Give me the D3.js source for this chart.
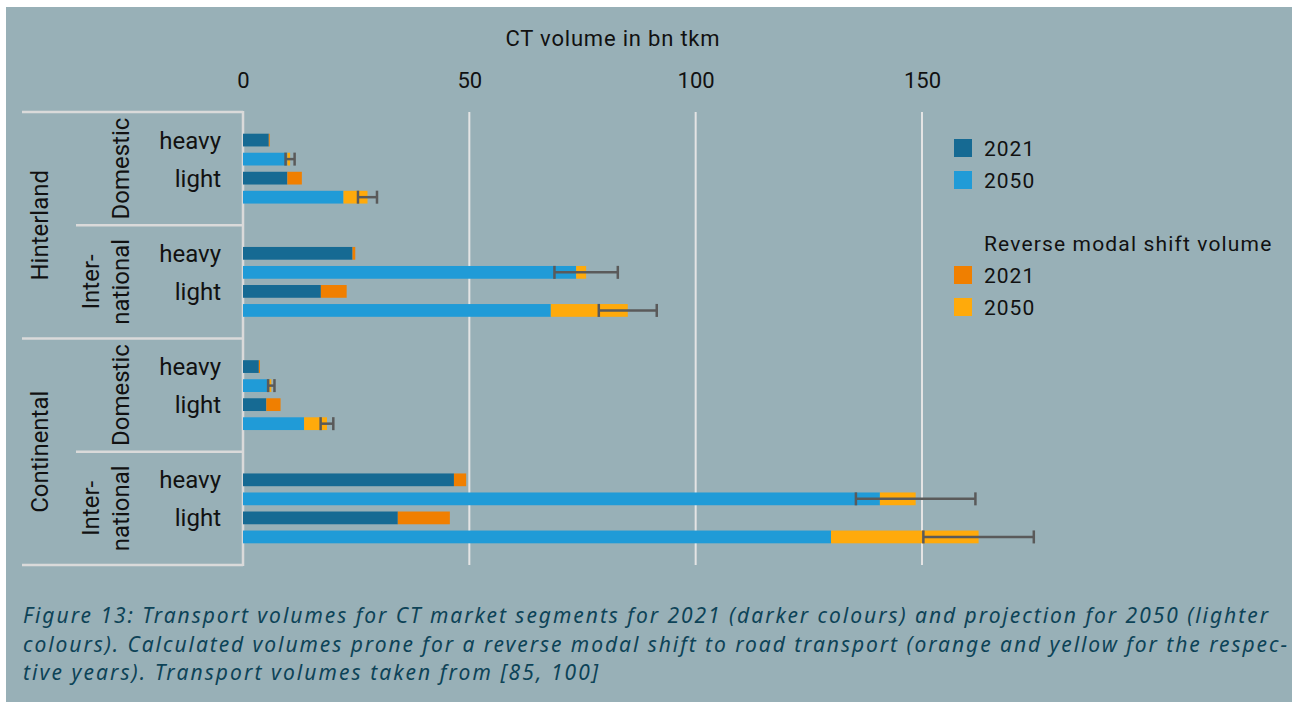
<!DOCTYPE html>
<html>
<head>
<meta charset="utf-8">
<script src="https://cdn.jsdelivr.net/npm/d3@7"></script>
<style>
body { margin: 0; background: #fff; }
svg text { font-family: Roboto, "Noto Sans", sans-serif; fill: #111; }
</style>
</head>
<body>
<script>
var regions = ["Hinterland", "Continental"];
var scopes = ["Domestic", "International"];
var loads = ["heavy", "light"];
var years = ["2021", "2050"];

// order: Hinterland Domestic heavy, light, Hinterland International heavy, light,
//        Continental Domestic heavy, light, Continental International heavy, light
var volume2021 = [5.7, 9.8, 24.2, 17.2, 3.5, 5.15, 46.6, 34.2];
var volume2050 = [9.8, 22.2, 73.6, 68.0, 5.8, 13.5, 140.7, 129.9];
var shift2021 = [0.2, 3.2, 0.6, 5.7, 0.25, 3.15, 2.7, 11.5];
var shift2050 = [0.6, 5.3, 2.2, 17.0, 0.45, 5.05, 7.9, 32.6];
var error2050 = [1.0, 2.1, 7.0, 6.4, 0.7, 1.4, 13.2, 12.2];
var xTicks = [0, 50, 100, 150];

var colors = {
    base2021: "#166a93",
    base2050: "#209bd7",
    shift2021: "#f07f00",
    shift2050: "#ffaa0b"
};

var width = 1292, height = 702;

var svg = d3.select("body").append("svg")
    .attr("width", width)
    .attr("height", height);

svg.append("rect")
    .attr("x", 6).attr("y", 7)
    .attr("width", width - 6).attr("height", height - 7)
    .attr("fill", "#98b0b7");

// build rows
var rows = [];
volume2021.forEach(function (v, i) {
    var region = regions[Math.floor(i / 4)];
    var scope = scopes[Math.floor(i / 2) % 2];
    var load = loads[i % 2];
    rows.push({group: region + "|" + scope, load: load, year: years[0],
        base: v, shift: shift2021[i], err: null});
    rows.push({group: region + "|" + scope, load: load, year: years[1],
        base: volume2050[i], shift: shift2050[i], err: error2050[i]});
});

var groups = [];
regions.forEach(function (r) {
    scopes.forEach(function (s) { groups.push(r + "|" + s); });
});

var x = d3.scaleLinear().domain([0, 150]).range([243, 922]);

var yGroup = d3.scaleBand().domain(groups).range([112, 565]);
var yRow = d3.scaleBand()
    .domain(["heavy-2021", "heavy-2050", "light-2021", "light-2050"])
    .range([0, yGroup.bandwidth()])
    .paddingInner(0.33)
    .paddingOuter(1.14);

function rowY(d) {
    return yGroup(d.group) + yRow(d.load + "-" + d.year);
}

// title
svg.append("text")
    .attr("x", 613).attr("y", 46)
    .attr("text-anchor", "middle")
    .attr("font-size", "22px")
    .attr("letter-spacing", "0.8px")
    .text("CT volume in bn tkm");

// top axis
var xAxis = svg.append("g")
    .attr("transform", "translate(0,88)")
    .call(d3.axisTop(x).tickValues(xTicks).tickSize(0).tickPadding(0));
xAxis.select(".domain").remove();
xAxis.selectAll("text")
    .attr("font-size", "22px")
    .attr("font-family", "Roboto, sans-serif")
    .attr("fill", "#111")
    .attr("dy", 0);

// gridlines
svg.append("g").selectAll("line")
    .data(xTicks.slice(1))
    .enter().append("line")
    .attr("x1", function (d) { return x(d); })
    .attr("x2", function (d) { return x(d); })
    .attr("y1", 112).attr("y2", 565)
    .attr("stroke", "#e4e4e4")
    .attr("stroke-width", 2);

// category axis lines
var axisColor = "#dadada";
svg.append("line")
    .attr("x1", x(0)).attr("x2", x(0))
    .attr("y1", 111).attr("y2", 566)
    .attr("stroke", axisColor).attr("stroke-width", 2.5);

var boundaries = [];
groups.forEach(function (g, i) {
    boundaries.push({y: yGroup(g), left: i % 2 === 0 ? 22 : 76});
});
boundaries.push({y: yGroup.range()[1], left: 22});

svg.append("g").selectAll("line")
    .data(boundaries)
    .enter().append("line")
    .attr("x1", function (d) { return d.left; })
    .attr("x2", x(0))
    .attr("y1", function (d) { return d.y; })
    .attr("y2", function (d) { return d.y; })
    .attr("stroke", axisColor)
    .attr("stroke-width", 2.5);

// bars
var barG = svg.append("g");
rows.forEach(function (d) {
    var y0 = rowY(d);
    var h = yRow.bandwidth();
    barG.append("rect")
        .attr("x", x(0))
        .attr("y", y0)
        .attr("width", x(d.base) - x(0))
        .attr("height", h)
        .attr("fill", d.year === "2021" ? colors.base2021 : colors.base2050);
    barG.append("rect")
        .attr("x", x(d.base))
        .attr("y", y0)
        .attr("width", x(d.base + d.shift) - x(d.base))
        .attr("height", h)
        .attr("fill", d.year === "2021" ? colors.shift2021 : colors.shift2050);
    if (d.err !== null) {
        var total = d.base + d.shift;
        var cy = y0 + h / 2;
        var e = barG.append("g")
            .attr("stroke", "#5a5a5a")
            .attr("stroke-width", 2.5);
        e.append("line")
            .attr("x1", x(total - d.err)).attr("x2", x(total + d.err))
            .attr("y1", cy).attr("y2", cy);
        [total - d.err, total + d.err].forEach(function (v) {
            e.append("line")
                .attr("x1", x(v)).attr("x2", x(v))
                .attr("y1", cy - 6.5).attr("y2", cy + 6.5);
        });
    }
});

// load labels (heavy / light), aligned with the 2021 bar
svg.append("g").selectAll("text")
    .data(rows.filter(function (d) { return d.year === "2021"; }))
    .enter().append("text")
    .attr("x", 221)
    .attr("y", function (d) { return rowY(d) + yRow.bandwidth() / 2 + 8.5; })
    .attr("text-anchor", "end")
    .attr("font-size", "24px")
    .text(function (d) { return d.load; });

// scope labels (rotated)
groups.forEach(function (g) {
    var scope = g.split("|")[1];
    var cy = yGroup(g) + yGroup.bandwidth() / 2;
    var t = svg.append("text")
        .attr("transform", "translate(120," + cy + ") rotate(-90)")
        .attr("text-anchor", "middle")
        .attr("font-size", "24px");
    if (scope === "International") {
        t.append("tspan").attr("x", 0).attr("y", -21).text("Inter-");
        t.append("tspan").attr("x", 0).attr("y", 9).text("national");
    } else {
        t.append("tspan").attr("x", 0).attr("y", 9).text(scope);
    }
});

// region labels
regions.forEach(function (r) {
    var cy = yGroup(r + "|" + scopes[0]) + yGroup.bandwidth();
    svg.append("text")
        .attr("transform", "translate(48," + cy + ") rotate(-90)")
        .attr("text-anchor", "middle")
        .attr("font-size", "24px")
        .text(r);
});

// legend
var legendItems = [
    {label: years[0], color: colors.base2021, y: 148},
    {label: years[1], color: colors.base2050, y: 180},
    {label: years[0], color: colors.shift2021, y: 275},
    {label: years[1], color: colors.shift2050, y: 307}
];
var legend = svg.append("g");
legend.selectAll("rect")
    .data(legendItems)
    .enter().append("rect")
    .attr("x", 954)
    .attr("y", function (d) { return d.y - 9; })
    .attr("width", 18).attr("height", 18)
    .attr("fill", function (d) { return d.color; });
legend.selectAll("text")
    .data(legendItems)
    .enter().append("text")
    .attr("x", 984)
    .attr("y", function (d) { return d.y + 8; })
    .attr("font-size", "21px")
    .attr("letter-spacing", "1px")
    .text(function (d) { return d.label; });
legend.append("text")
    .attr("x", 984).attr("y", 251)
    .attr("font-size", "21px")
    .attr("letter-spacing", "1.15px")
    .text("Reverse modal shift volume");

// caption
var captionLines = [
    {text: "Figure 13: Transport volumes for CT market segments for 2021 (darker colours) and projection for 2050 (lighter", y: 623, w: 1245},
    {text: "colours). Calculated volumes prone for a reverse modal shift to road transport (orange and yellow for the respec-", y: 652, w: 1264},
    {text: "tive years). Transport volumes taken from [85, 100]", y: 680, w: 575}
];
svg.append("g").selectAll("text")
    .data(captionLines)
    .enter().append("text")
    .attr("x", 23)
    .attr("y", function (d) { return d.y; })
    .attr("textLength", function (d) { return d.w; })
    .attr("lengthAdjust", "spacing")
    .attr("font-size", "21px")
    .attr("font-style", "italic")
    .style("font-family", "'Noto Sans', sans-serif")
    .style("fill", "#0d4357")
    .text(function (d) { return d.text; });
</script>
</body>
</html>
